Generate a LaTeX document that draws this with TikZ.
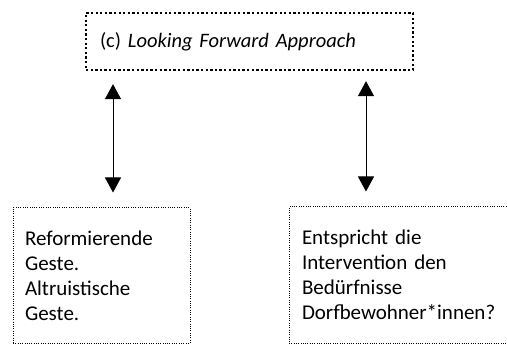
\documentclass[tikz,border=0pt]{standalone}
\usepackage{fontspec}
\setmainfont{Carlito}
\usetikzlibrary{arrows.meta}
\tikzset{
  topbox/.style={draw, line width=2.3pt, dash pattern=on 2.3pt off 2.3pt, minimum width=327pt, minimum height=57pt, inner xsep=14pt, text width=299pt, align=left, font=\fontsize{20.5}{25}\selectfont},
  lowbox/.style={draw, line width=1pt, dash pattern=on 1pt off 1.3pt, align=left, font=\fontsize{21}{25}\selectfont},
  link/.style={arrows={Triangle[width=16pt,length=15pt]-Triangle[width=16pt,length=15pt]}, line width=1pt}
}
\begin{document}
\begin{tikzpicture}[x=1pt,y=-1pt]
\useasboundingbox (0,0) rectangle (507,345);
\clip (0,0) rectangle (507,345);
\node[topbox] (look) at (249.5,41.5) {(c) \textit{Looking Forward Approach}};
\node[lowbox, minimum width=177pt, minimum height=135pt, inner xsep=12pt, text width=153pt] (reform) at (101.5,275.5) {Reformierende\\Geste.\\Altruistische\\Geste.};
\node[lowbox, minimum width=226pt, minimum height=136pt, inner xsep=13pt, text width=200pt] (need) at (402,275) {Entspricht die\\Intervention den\\Bedürfnisse\\Dorfbewohner*innen?};
\coordinate (lx) at (113,0);
\coordinate (rx) at (366,0);
\draw[link, shorten <=13pt, shorten >=15pt] (look.south -| lx) -- (reform.north -| lx);
\draw[link, shorten <=10pt, shorten >=15pt] (look.south -| rx) -- (need.north -| rx);
\end{tikzpicture}
\end{document}
